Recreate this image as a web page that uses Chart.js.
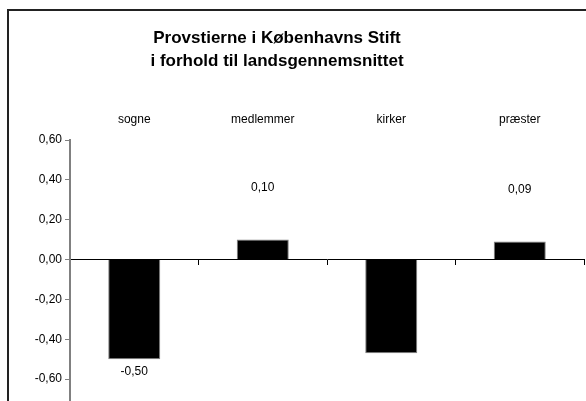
<!DOCTYPE html>
<html>
<head>
<meta charset="utf-8">
<script src="https://cdn.jsdelivr.net/npm/chart.js@4"></script>
<style>
  html, body { margin: 0; padding: 0; background: #fff; overflow: hidden; }
  #wrap { position: relative; width: 586px; height: 401px; }
  #frame { position: absolute; left: 7px; top: 9px; width: 600px; height: 420px;
           border-left: 2px solid #222; border-top: 2px solid #222; }
  canvas { position: absolute; left: 0; top: 0; }
</style>
</head>
<body>
<div id="wrap">
  <div id="frame"></div>
  <canvas id="chart" width="586" height="401"></canvas>
</div>
<script>
// Provstierne i Københavns Stift

const titleLines = ["Provstierne i Københavns Stift", "i forhold til landsgennemsnittet"];
const categories = ["sogne", "medlemmer", "kirker", "præster"];
const values = [-0.50, 0.10, -0.47, 0.09];
const valueLabels = ["-0,50", "0,10", "", "0,09"];
const yTicks = [-0.60, -0.40, -0.20, 0.00, 0.20, 0.40, 0.60];

const FONT = "'Liberation Sans', Arial, sans-serif";

function fmt(v) {
  if (Math.abs(v) < 1e-9) v = 0;
  return v.toFixed(2).replace(".", ",");
}

const titlePlugin = {
  id: "titleLines",
  afterDraw(chart) {
    const ctx = chart.ctx;
    ctx.save();
    ctx.fillStyle = "#000";
    ctx.font = "bold 17px " + FONT;
    ctx.textAlign = "center";
    ctx.textBaseline = "alphabetic";
    ctx.fillText(titleLines[0], 277, 43);
    ctx.fillText(titleLines[1], 277, 66);
    ctx.restore();
  },
};

const valueLabelPlugin = {
  id: "valueLabels",
  afterDatasetsDraw(chart) {
    const ctx = chart.ctx;
    const meta = chart.getDatasetMeta(0);
    ctx.save();
    ctx.fillStyle = "#000";
    ctx.font = "12px " + FONT;
    ctx.textAlign = "center";
    ctx.textBaseline = "middle";
    meta.data.forEach(function (bar, i) {
      if (!valueLabels[i]) return;
      const y = values[i] < 0 ? bar.y + 13 : bar.y - 52;
      ctx.fillText(valueLabels[i], bar.x, y);
    });
    ctx.restore();
  },
};

const ctx = document.getElementById("chart").getContext("2d");
const chart = new Chart(ctx, {
  type: "bar",
  data: {
    labels: categories,
    datasets: [
      {
        data: values,
        backgroundColor: "#000",
        borderColor: "#808080",
        borderWidth: 1,
        barPercentage: 0.405,
        categoryPercentage: 1,
        xAxisID: "x",
        yAxisID: "y",
      },
    ],
  },
  options: {
    responsive: false,
    animation: false,
    layout: { padding: { top: 100, left: 0, right: 2, bottom: 0 } },
    plugins: {
      legend: { display: false },
      title: { display: false },
      tooltip: { enabled: false },
    },
    scales: {
      x: {
        position: { y: 0 },
        offset: true,
        ticks: { display: false },
        grid: {
          offset: true,
          drawOnChartArea: false,
          drawTicks: true,
          tickLength: 5,
          color: "#000",
        },
        border: { display: true, color: "#000", width: 1 },
        afterFit(scale) {
          scale.height = 0;
          scale.paddingBottom = 0;
          scale.paddingTop = 0;
        },
      },
      x2: {
        position: "top",
        type: "category",
        labels: categories,
        offset: true,
        grid: { display: false },
        border: { display: false },
        ticks: {
          color: "#000",
          font: { family: FONT, size: 12 },
          padding: 5,
          maxRotation: 0,
        },
        afterFit(scale) { scale.height = 40; },
      },
      y: {
        min: -0.71,
        max: 0.6,
        ticks: {
          stepSize: 0.2,
          color: "#000",
          padding: 3,
          font: { family: FONT, size: 12 },
          callback: function (value) { return fmt(value); },
        },
        afterBuildTicks(scale) {
          scale.ticks = yTicks.map(function (v) { return { value: v }; });
        },
        afterFit(scale) {
          scale.width = 70;
          scale.paddingBottom = 0;
          scale.paddingTop = 0;
        },
        grid: {
          drawOnChartArea: false,
          drawTicks: true,
          tickLength: 5,
          color: "#808080",
        },
        border: { display: true, color: "#808080", width: 2 },
      },
    },
  },
  plugins: [titlePlugin, valueLabelPlugin],
});
</script>
</body>
</html>
